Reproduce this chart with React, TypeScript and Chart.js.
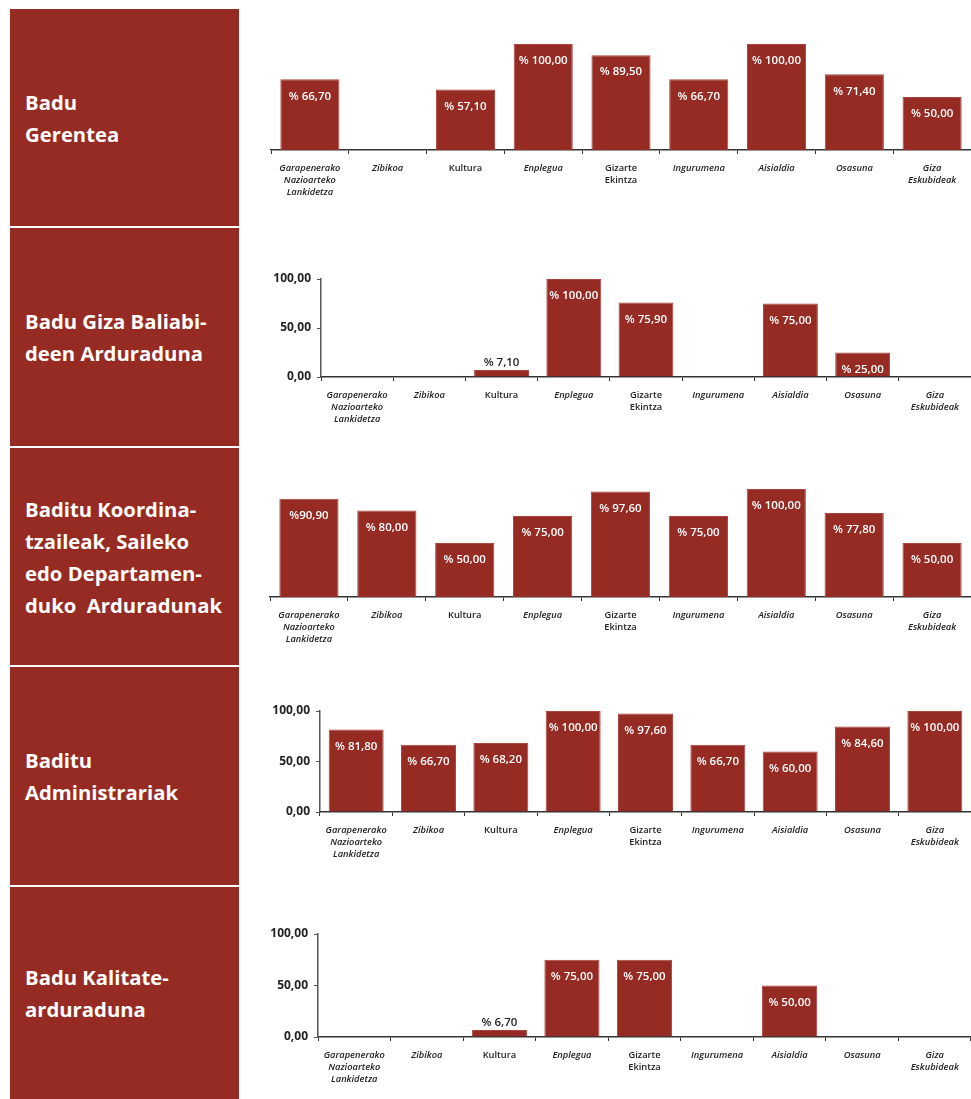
import React, { useEffect, useRef } from "react";
import { Chart, registerables } from "chart.js";

Chart.register(...registerables);

// ---------- data ----------
const categories: (string | string[])[] = [
  ["Garapenerako", "Nazioarteko", "Lankidetza"],
  "Zibikoa",
  "Kultura",
  "Enplegua",
  ["Gizarte", "Ekintza"],
  "Ingurumena",
  "Aisialdia",
  "Osasuna",
  ["Giza", "Eskubideak"],
];
const uprightCategoryIndexes = [2, 4]; // Kultura, Gizarte Ekintza

const gerenteaValues = [66.7, null, 57.1, 100, 89.5, 66.7, 100, 71.4, 50];
const gizaBaliabideValues = [null, null, 7.1, 100, 75.9, null, 75, 25, null];
const koordinatzaileValues = [90.9, 80, 50, 75, 97.6, 75, 100, 77.8, 50];
const administrariValues = [81.8, 66.7, 68.2, 100, 97.6, 66.7, 60, 84.6, 100];
const kalitateValues = [null, null, 6.7, 75, 75, null, 50, null, null];

const rowTitles = [
  "Badu\nGerentea",
  "Badu Giza Baliabi-\ndeen Arduraduna",
  "Baditu Koordina-\ntzaileak, Saileko\nedo Departamen-\nduko  Arduradunak",
  "Baditu\nAdministrariak",
  "Badu Kalitate-\narduraduna",
];

const yMin = 0;
const yMax = 100;
const yStep = 50;

// ---------- styles ----------
const RED = "#962b24";
const EDGE = "#a9443e";

type Panel = {
  values: (number | null)[];
  showY: boolean;
  top: number;
  height: number;
  padTop: number;
  padLeft: number;
  xAxisHeight: number;
  yAxisWidth: number;
  noSpace: number[];
};

const rows = [
  { top: 9, height: 217 },
  { top: 228, height: 218 },
  { top: 448, height: 217 },
  { top: 667, height: 218 },
  { top: 887, height: 212 },
];

const panels: Panel[] = [
  { values: gerenteaValues, showY: false, top: 9, height: 217, padTop: 35, padLeft: 31, xAxisHeight: 76, yAxisWidth: 0, noSpace: [] },
  { values: gizaBaliabideValues, showY: true, top: 228, height: 218, padTop: 51, padLeft: 0, xAxisHeight: 69, yAxisWidth: 81, noSpace: [] },
  { values: koordinatzaileValues, showY: false, top: 448, height: 217, padTop: 41, padLeft: 30, xAxisHeight: 68, yAxisWidth: 0, noSpace: [0] },
  { values: administrariValues, showY: true, top: 667, height: 218, padTop: 44, padLeft: 0, xAxisHeight: 73, yAxisWidth: 80, noSpace: [] },
  { values: kalitateValues, showY: true, top: 887, height: 212, padTop: 47, padLeft: 0, xAxisHeight: 62, yAxisWidth: 78, noSpace: [] },
];

const CANVAS_LEFT = 240;
const CANVAS_WIDTH = 731;

const fmt = (v: number) => v.toFixed(2).replace(".", ",");

const valueLabelPlugin = {
  id: "valueLabels",
  afterDatasetsDraw(chart: any, _args: any, opts: any) {
    const ctx = chart.ctx;
    const meta = chart.getDatasetMeta(0);
    const data = chart.data.datasets[0].data as (number | null)[];
    const noSpace: number[] = (opts && opts.noSpace) || [];
    meta.data.forEach((bar: any, i: number) => {
      const v = data[i];
      if (v == null) return;
      const text = "%" + (noSpace.includes(i) ? "" : " ") + fmt(v);
      ctx.save();
      ctx.font = '600 11.5px "Open Sans"';
      ctx.textAlign = "center";
      ctx.textBaseline = "middle";
      if (v < 15) {
        ctx.fillStyle = "#222";
        ctx.fillText(text, bar.x, bar.y - 7);
      } else {
        ctx.fillStyle = "#ffffff";
        ctx.fillText(text, bar.x, bar.y + 17);
      }
      ctx.restore();
    });
  },
};

function BarPanel({ panel }: { panel: Panel }) {
  const ref = useRef<HTMLCanvasElement | null>(null);
  useEffect(() => {
    if (!ref.current) return;
    const chart = new Chart(ref.current, {
      type: "bar",
      data: {
        labels: categories as any,
        datasets: [
          {
            data: panel.values as any,
            backgroundColor: RED,
            borderColor: EDGE,
            borderWidth: 1,
            barPercentage: 0.76,
            categoryPercentage: 1,
          },
        ],
      },
      options: {
        animation: false,
        responsive: false,
        maintainAspectRatio: false,
        layout: { padding: { top: panel.padTop, left: panel.padLeft, right: 0, bottom: 0 } },
        plugins: {
          legend: { display: false },
          tooltip: { enabled: false },
          valueLabels: { noSpace: panel.noSpace },
        } as any,
        scales: {
          x: {
            grid: {
              offset: true,
              drawOnChartArea: false,
              drawTicks: true,
              tickLength: 4,
              color: "#333",
              lineWidth: 1,
            },
            border: { display: true, color: "#333", width: 1.5 },
            ticks: {
              color: "#222",
              padding: 8,
              maxRotation: 0,
              autoSkip: false,
              font: (ctx: any) => ({
                family: "'Open Sans'",
                size: 9.3,
                weight: "600",
                style: uprightCategoryIndexes.includes(ctx.index) ? "normal" : "italic",
                lineHeight: 1.3,
              }),
            },
            afterFit: (s: any) => {
              s.height = panel.xAxisHeight;
            },
          } as any,
          y: {
            display: panel.showY,
            min: yMin,
            max: yMax,
            ticks: {
              stepSize: yStep,
              color: "#222",
              padding: 6,
              font: { family: "'Open Sans'", size: 12, weight: "700" },
              callback: (v: any) => fmt(Number(v)),
            },
            grid: { drawOnChartArea: false, drawTicks: true, tickLength: 4, color: "#555" },
            border: { display: true, color: "#555", width: 1.5 },
            afterFit: (s: any) => {
              if (panel.showY) s.width = panel.yAxisWidth;
            },
          } as any,
        },
      },
      plugins: [valueLabelPlugin as any],
    });
    return () => chart.destroy();
  }, [panel]);
  return (
    <canvas
      ref={ref}
      width={CANVAS_WIDTH}
      height={panel.height}
      style={{
        position: "absolute",
        left: CANVAS_LEFT,
        top: panel.top,
        width: CANVAS_WIDTH,
        height: panel.height,
      }}
    />
  );
}

export default function App() {
  return (
    <div
      style={{
        position: "absolute",
        left: 0,
        top: 0,
        width: 971,
        height: 1099,
        background: "#ffffff",
        overflow: "hidden",
      }}
    >
      {rows.map((r, i) => (
        <div
          key={i}
          style={{
            position: "absolute",
            left: 10,
            top: r.top,
            width: 229,
            height: r.height,
            background: RED,
            display: "flex",
            alignItems: "center",
            boxSizing: "border-box",
            paddingLeft: 15,
            color: "#ffffff",
            fontFamily: "'Open Sans', sans-serif",
            fontWeight: 700,
            fontSize: 20.3,
            lineHeight: "32px",
            whiteSpace: "pre",
          }}
        >
          {rowTitles[i]}
        </div>
      ))}
      {panels.map((p, i) => (
        <BarPanel key={i} panel={p} />
      ))}
    </div>
  );
}
